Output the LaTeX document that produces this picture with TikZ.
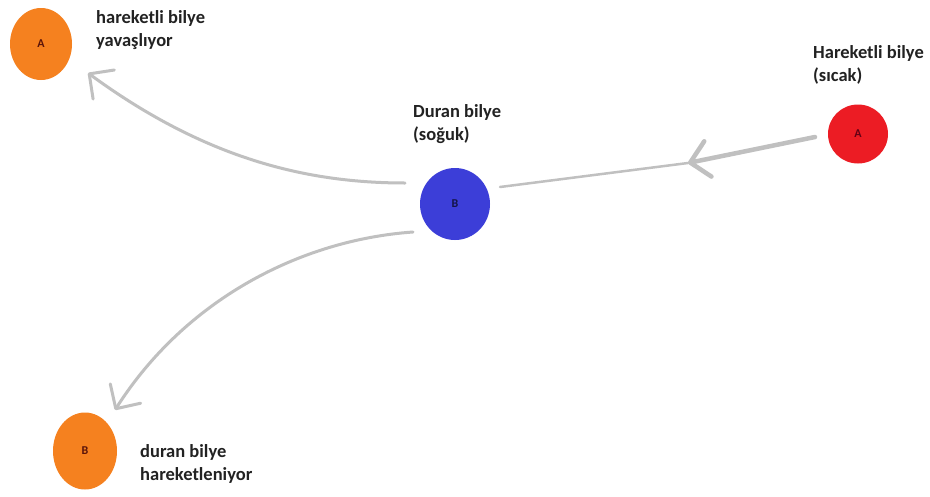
\documentclass[tikz,border=0pt]{standalone}
\usepackage{fontspec}
\setmainfont{Carlito}
\usetikzlibrary{arrows.meta,calc,shapes.geometric}
\definecolor{ballorange}{RGB}{245,129,31}
\definecolor{ballred}{RGB}{236,28,36}
\definecolor{ballblue}{RGB}{60,62,216}
\definecolor{arrgray}{RGB}{192,192,192}
\definecolor{txt}{RGB}{34,34,34}
\definecolor{ltrorange}{RGB}{90,20,10}
\definecolor{ltrred}{RGB}{100,0,20}
\definecolor{ltrblue}{RGB}{20,20,70}
\tikzset{
  ball/.style={ellipse, inner sep=0pt, font=\fontsize{12}{14}\selectfont\bfseries},
  lbl/.style={anchor=base west, inner sep=0pt, align=left, text=txt,
    font=\fontsize{18.5}{22.5}\selectfont\bfseries},
  arr/.style={draw=arrgray, line width=3pt, line cap=round,
    -{Straight Barb[length=18pt,width=36pt,round]}},
  thinline/.style={draw=arrgray, line width=2.5pt, line cap=round},
}
\begin{document}
\begin{tikzpicture}[x=1pt,y=-1pt]
\useasboundingbox[fill=white] (0,0) rectangle (930,496);
% balls
\node[ball, fill=ballorange, minimum width=62pt, minimum height=72pt, text=ltrorange] (A1) at (41,44) {A};
\node[ball, fill=ballred, minimum width=60pt, minimum height=59pt, text=ltrred] (A0) at (858,134) {A};
\node[ball, fill=ballblue, minimum width=70pt, minimum height=72pt, text=ltrblue] (B) at (455,204) {B};
\node[ball, fill=ballorange, minimum width=64pt, minimum height=77pt, text=ltrorange] (B1) at (85,451) {B};
% labels (anchored at the baseline of the last line)
\node[lbl] (tA1) at (96,46) {hareketli bilye\\yavaşlıyor};
\node[lbl] (tA0) at (813,81) {Hareketli bilye\\(sıcak)};
\node[lbl] (tB) at (413,140) {Duran bilye\\(soğuk)};
\node[lbl] (tB1) at (140,480) {duran bilye\\hareketleniyor};
% connector end points
\coordinate (a0s) at ($(A0)+(-43,3)$);
\coordinate (mid) at (688,163);
\coordinate (bR) at ($(B)+(45,-17)$);
\coordinate (bL) at ($(B)+(-50,-21)$);
\coordinate (bD) at ($(B)+(-42,28)$);
\coordinate (a1e) at ($(A1)+(47,29)$);
\coordinate (b1e) at ($(B1)+(30,-41)$);
% connectors
\draw[arr, line width=4.5pt] (a0s) -- (mid);
\draw[thinline] (mid) -- (bR);
\draw[arr] (bL) .. controls (300,183) and (200,155) .. (a1e);
\draw[arr] (bD) .. controls (300,240) and (185,300) .. (b1e);
\end{tikzpicture}
\end{document}
